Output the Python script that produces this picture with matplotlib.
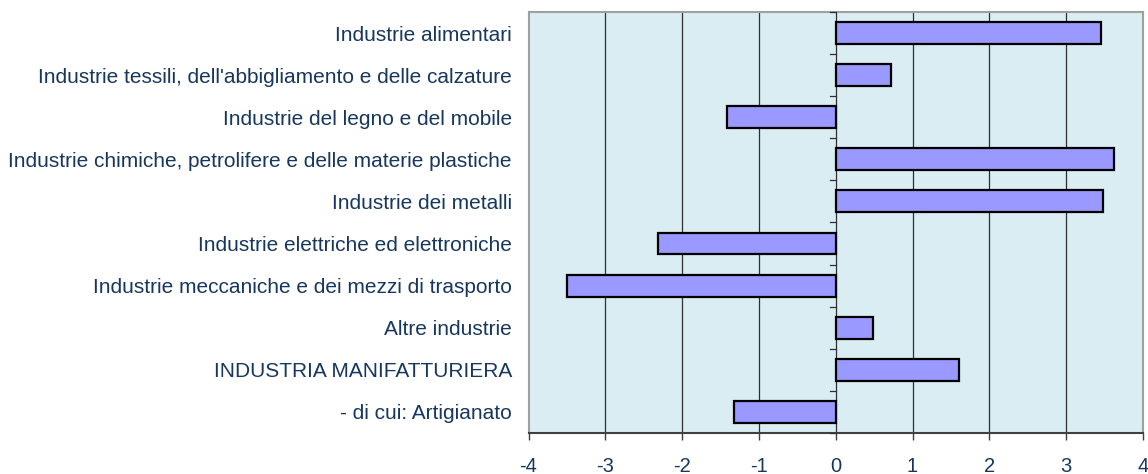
import matplotlib
matplotlib.use("Agg")
import matplotlib.pyplot as plt
import numpy as np

categories = [
    "Industrie alimentari",
    "Industrie tessili, dell'abbigliamento e delle calzature",
    "Industrie del legno e del mobile",
    "Industrie chimiche, petrolifere e delle materie plastiche",
    "Industrie dei metalli",
    "Industrie elettriche ed elettroniche",
    "Industrie meccaniche e dei mezzi di trasporto",
    "Altre industrie",
    "INDUSTRIA MANIFATTURIERA",
    "- di cui: Artigianato",
]
values = [3.46, 0.72, -1.42, 3.62, 3.48, -2.32, -3.50, 0.49, 1.60, -1.32]
xticks = [-4, -3, -2, -1, 0, 1, 2, 3, 4]

plt.rcParams['font.family'] = ['Liberation Sans', 'DejaVu Sans']
text_color = '#17375E'

fig = plt.figure(figsize=(11.48, 4.74), dpi=100)
ax = fig.add_axes([0.4604, 0.0865, 0.9956 - 0.4604, 0.9747 - 0.0865])
ax.set_facecolor('#DAEDF2')

y = np.arange(len(categories))
ax.barh(y, values, height=0.52, color='#9999FF', edgecolor='black', linewidth=1.6, zorder=3)

ax.set_xlim(-4, 4)
ax.set_ylim(len(categories) - 0.5, -0.5)

for xv in xticks[1:-1]:
    ax.axvline(xv, color='#303030', linewidth=0.9, zorder=1)

# category boundary ticks on the zero line
for b in np.arange(-0.5, len(categories) + 0.5, 1.0):
    ax.plot([-0.07, 0], [b, b], color='#303030', linewidth=0.9, zorder=4, clip_on=False)

ax.set_yticks(y)
ax.set_yticklabels(categories, fontsize=15, color=text_color)
ax.tick_params(axis='y', length=0, pad=12)

ax.set_xticks(xticks)
ax.set_xticklabels([str(v) for v in xticks], fontsize=14.5, color=text_color)
ax.tick_params(axis='x', length=5, width=1.0, color='#404040', pad=12, direction='out')

for s in ['left', 'top', 'right']:
    ax.spines[s].set_color('#A0A0A0')
    ax.spines[s].set_linewidth(1.5)
ax.spines['bottom'].set_color('#404040')
ax.spines['bottom'].set_linewidth(1.5)

fig.savefig('out.png', dpi=100)
